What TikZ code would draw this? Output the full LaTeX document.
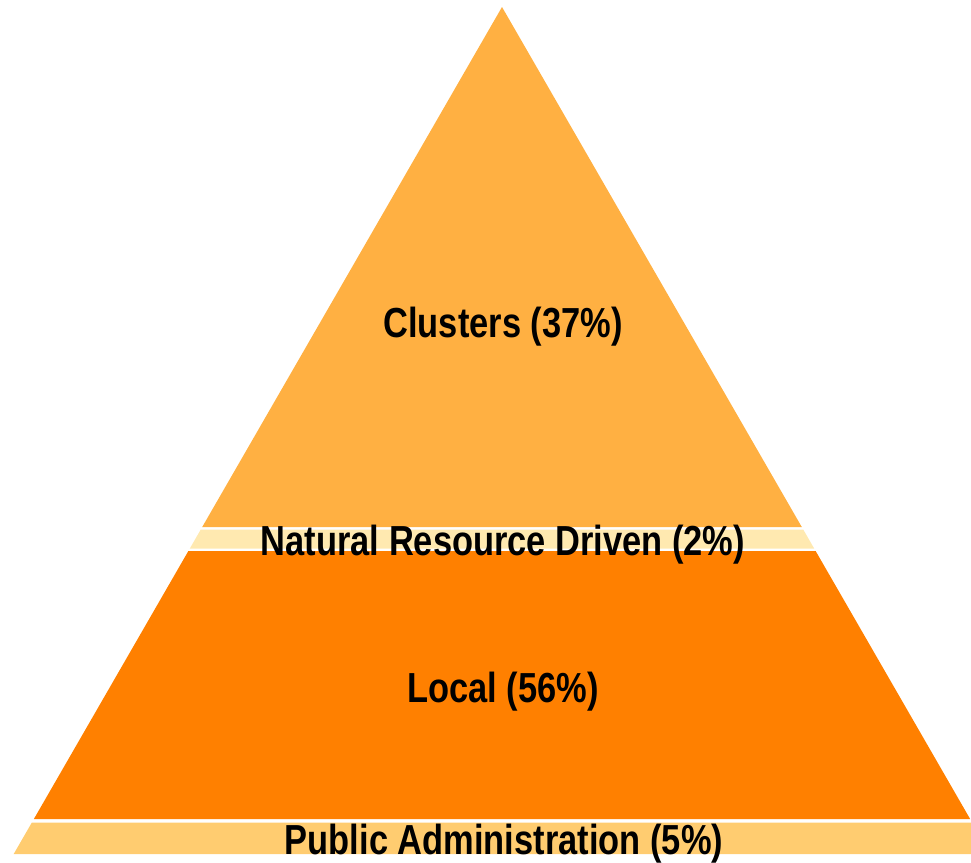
\documentclass[tikz,border=0pt]{standalone}
\usepackage{fontspec}
\setmainfont{Liberation Sans}
\definecolor{clus}{HTML}{FFB042}
\definecolor{natres}{HTML}{FFE9B0}
\definecolor{localc}{HTML}{FF8000}
\definecolor{pubad}{HTML}{FFCC70}
\tikzset{
  lbl/.style={inner sep=0pt, anchor=base, font=\fontsize{42}{42}\selectfont\bfseries, text=black},
}
\newcommand{\narrowtxt}[1]{\scalebox{0.82}[1]{#1}}
\begin{document}
\begin{tikzpicture}[x=1pt,y=-1pt]
\useasboundingbox (0,0) rectangle (971,862);
\clip (0,0) rectangle (971,862);
% apex (502,7), half-width slope 0.5765 per unit height
% Clusters band: y 7 .. 527
\fill[clus] (502,7) -- ({502+0.5765*520},527) -- ({502-0.5765*520},527) -- cycle;
% Natural resource band: y 529.5 .. 548.5
\fill[natres] ({502-0.5765*522.5},529.5) -- ({502+0.5765*522.5},529.5) -- ({502+0.5765*541.5},548.5) -- ({502-0.5765*541.5},548.5) -- cycle;
% Local band: y 551 .. 819
\fill[localc] ({502-0.5765*544},551) -- ({502+0.5765*544},551) -- ({502+0.5765*812},819) -- ({502-0.5765*812},819) -- cycle;
% Public administration band: y 822.5 .. 854
\fill[pubad] ({502-0.5765*815.5},822.5) -- ({502+0.5765*815.5},822.5) -- ({502+0.5765*847},854) -- ({502-0.5765*847},854) -- cycle;
% labels
\node[lbl] (clusters) at (503,337) {\narrowtxt{Clusters (37\%)}};
\node[lbl] (natural) at (503,555) {\narrowtxt{Natural Resource Driven (2\%)}};
\node[lbl] (local) at (503,702) {\narrowtxt{Local (56\%)}};
\node[lbl] (public) at (504,854) {\narrowtxt{Public Administration (5\%)}};
\end{tikzpicture}
\end{document}
